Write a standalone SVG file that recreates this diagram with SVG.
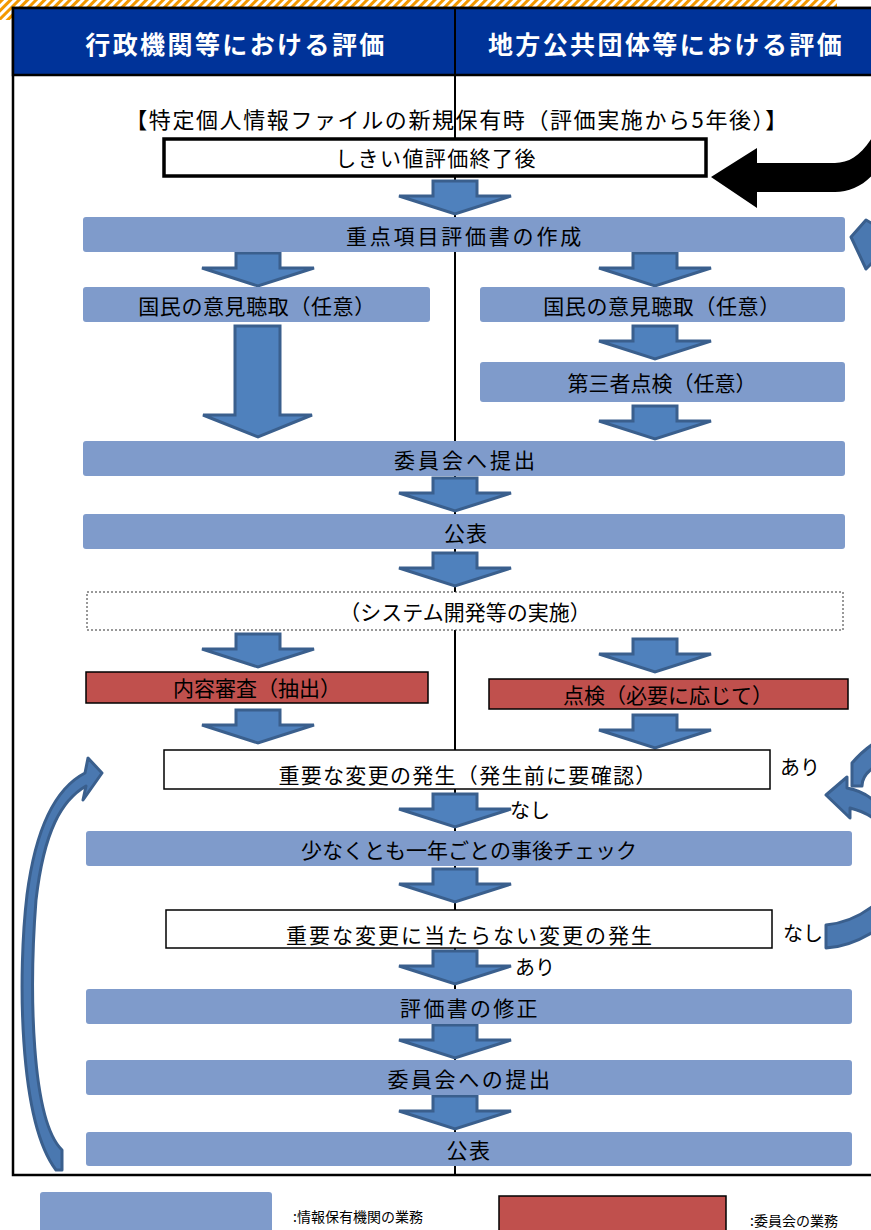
<svg xmlns="http://www.w3.org/2000/svg" width="871" height="1230" viewBox="0 0 871 1230">
<defs>
<pattern id="hatch" width="6" height="6" patternUnits="userSpaceOnUse" patternTransform="rotate(45)">
<rect width="3" height="6" fill="#F39800"/>
</pattern>
<path id="arr" d="M -22,0 H 22 V 15 H 56 L 0,33 L -56,15 H -22 Z"/>
</defs>
<style>
text{font-family:"Noto Sans CJK JP","Noto Sans CJK SC",sans-serif;fill:#000;}
.t{font-size:21px;text-anchor:middle;}
.hd{font-size:25px;font-weight:bold;fill:#fff;text-anchor:middle;letter-spacing:2.4px;}
.bar{fill:#7F9BCB;}
.red{fill:#C0504D;stroke:#000;stroke-width:1.5;}
.wbox{fill:#fff;stroke:#000;stroke-width:1.5;}
.ba{fill:#4F81BD;stroke:#3A5F8D;stroke-width:3;stroke-linejoin:miter;}
.cv{fill:#4A78B0;stroke:#3A5F8D;stroke-width:3;stroke-linejoin:round;}
.lg{font-size:14px;}
</style>
<rect x="0" y="0" width="837" height="20" fill="url(#hatch)"/>
<g id="frame">
<rect x="13" y="8" width="870" height="1167" fill="#fff" stroke="#000" stroke-width="2.5"/>
<rect x="13" y="8" width="870" height="67" fill="#003399" stroke="#000" stroke-width="2.5"/>
<line x1="455" y1="8" x2="455" y2="1175" stroke="#000" stroke-width="2"/>
<text class="hd" x="236" y="54">行政機関等における評価</text>
<text class="hd" x="666" y="54">地方公共団体等における評価</text>
</g>
<g id="connectors">
<use href="#arr" x="455" y="181" class="ba"/>
<use href="#arr" x="258" y="253" class="ba"/>
<use href="#arr" x="655" y="253" class="ba"/>
<path class="ba" d="M 235,326 H 280 V 415 H 312 L 258,437 L 203,415 H 235 Z"/>
<use href="#arr" x="655" y="326" class="ba"/>
<use href="#arr" x="655" y="406" class="ba"/>
<use href="#arr" x="455" y="478" class="ba"/>
<use href="#arr" x="455" y="553" class="ba"/>
<use href="#arr" x="258" y="634" class="ba"/>
<use href="#arr" x="655" y="639" class="ba"/>
<use href="#arr" x="258" y="710" class="ba"/>
<use href="#arr" x="655" y="715" class="ba"/>
<use href="#arr" x="455" y="794" class="ba"/>
<use href="#arr" x="455" y="869" class="ba"/>
<use href="#arr" x="455" y="951" class="ba"/>
<use href="#arr" x="455" y="1025" class="ba"/>
<use href="#arr" x="455" y="1096" class="ba"/>
<path fill="#000" d="M 711,177 L 757,148 L 757,163 L 835,163 C 850,163 862,155 875,133 L 875,172 C 865,185 850,192 835,192 L 757,192 L 757,208 Z"/>
<path class="cv" d="M 851,237 L 866,220 L 873,224 L 873,262 L 866,269 Z"/>
<path class="cv" d="M 852,786 L 852,763 C 858,756 864,750 873,744 L 873,768 C 866,773 862,778 862,786 Z"/>
<path class="cv" d="M 826,795 L 847,777 L 847,788 C 858,790 866,794 873,800 L 873,818 C 866,813 858,810 850,808 L 850,818 Z"/>
<path class="cv" d="M 826,925 C 845,923 860,916 873,906 L 873,932 C 860,940 845,947 826,948 Z"/>
<path class="cv" d="M 62,1170 L 62,1150 C 31,1120 29,990 36,900 C 44,830 62,800 86,786 L 83,800 L 102,773 L 88,758 L 85,773 C 56,788 36,825 27,895 C 18,970 18,1120 56,1170 Z"/>
</g>
<g id="title"><text x="457" y="128" style="font-size:22px;text-anchor:middle;letter-spacing:1.6px">【特定個人情報ファイルの新規保有時（評価実施から5年後）】</text></g>
<g id="n-threshold"><rect x="164" y="139" width="542" height="37" fill="#fff" stroke="#000" stroke-width="3.5"/><text class="t" x="436" y="166" style="letter-spacing:1.4px">しきい値評価終了後</text></g>
<g id="n-create"><rect class="bar" x="83" y="217" width="762" height="35" rx="3"/><text class="t" x="465" y="244" style="letter-spacing:2.8px">重点項目評価書の作成</text></g>
<g id="n-opinion-l"><rect class="bar" x="83" y="287" width="347" height="35" rx="3"/><text class="t" x="257" y="314" style="letter-spacing:0.6px">国民の意見聴取（任意）</text></g>
<g id="n-opinion-r"><rect class="bar" x="480" y="287" width="365" height="35" rx="3"/><text class="t" x="662" y="314" style="letter-spacing:0.6px">国民の意見聴取（任意）</text></g>
<g id="n-third"><rect class="bar" x="480" y="362" width="365" height="40" rx="3"/><text class="t" x="662" y="391">第三者点検（任意）</text></g>
<g id="n-submit"><rect class="bar" x="83" y="441" width="762" height="35" rx="3"/><text class="t" x="466" y="468" style="letter-spacing:3px">委員会へ提出</text></g>
<g id="n-publish1"><rect class="bar" x="83" y="514" width="762" height="35" rx="3"/><text class="t" x="466" y="541" style="letter-spacing:1px">公表</text></g>
<g id="n-system"><rect x="87" y="592" width="756" height="38" fill="#fff" stroke="#333" stroke-width="1" stroke-dasharray="2,2"/><text class="t" x="465" y="620">（システム開発等の実施）</text></g>
<g id="n-review"><rect class="red" x="86" y="672" width="342" height="31"/><text class="t" x="257" y="696">内容審査（抽出）</text></g>
<g id="n-inspect"><rect class="red" x="489" y="679" width="359" height="30"/><text class="t" x="668" y="703">点検（必要に応じて）</text></g>
<g id="n-change"><rect class="wbox" x="164" y="750" width="606" height="39"/><text class="t" x="468" y="783" style="letter-spacing:1.3px">重要な変更の発生（発生前に要確認）</text></g>
<text x="780" y="775" style="font-size:20px">あり</text>
<text x="510" y="818" style="font-size:20px">なし</text>
<g id="n-check"><rect class="bar" x="86" y="831" width="766" height="35" rx="3"/><text class="t" x="469" y="858">少なくとも一年ごとの事後チェック</text></g>
<g id="n-minor"><rect class="wbox" x="166" y="910" width="606" height="38"/><text class="t" x="470" y="943" style="letter-spacing:2px">重要な変更に当たらない変更の発生</text></g>
<text x="783" y="941" style="font-size:20px">なし</text>
<text x="515" y="975" style="font-size:20px">あり</text>
<g id="n-fix"><rect class="bar" x="86" y="989" width="766" height="35" rx="3"/><text class="t" x="470" y="1016" style="letter-spacing:2.3px">評価書の修正</text></g>
<g id="n-submit2"><rect class="bar" x="86" y="1060" width="766" height="35" rx="3"/><text class="t" x="470" y="1087" style="letter-spacing:2.6px">委員会への提出</text></g>
<g id="n-publish2"><rect class="bar" x="86" y="1132" width="766" height="34" rx="3"/><text class="t" x="469" y="1158" style="letter-spacing:1.5px">公表</text></g>
<g id="legend">
<rect class="bar" x="40" y="1192" width="232" height="45" rx="3"/>
<text class="lg" x="293" y="1222">:情報保有機関の業務</text>
<rect class="red" x="499" y="1196" width="227" height="40"/>
<text class="lg" x="750" y="1226">:委員会の業務</text>
</g>
</svg>
